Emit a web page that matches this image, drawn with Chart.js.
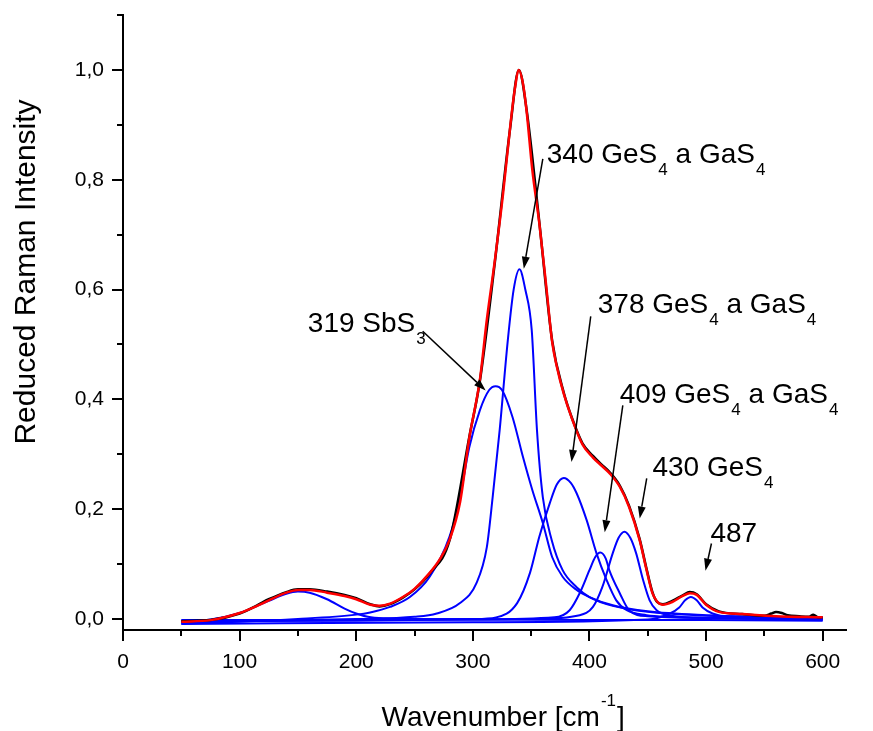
<!DOCTYPE html>
<html>
<head>
<meta charset="utf-8">
<script src="https://cdn.jsdelivr.net/npm/chart.js@4.4.1/dist/chart.umd.min.js"></script>
<style>
  html, body { margin: 0; padding: 0; background: #fff; }
  #grafico { display: block; }
</style>
</head>
<body>
<canvas id="grafico" width="873" height="731"></canvas>
<script>

// total fit (red)
const ajusteX = [50, 75, 100, 115, 125, 140, 150, 160, 175, 190, 200, 212, 220, 229, 240, 250, 263, 272, 280, 289, 297, 306, 312, 319, 326, 332, 336, 339.5, 343, 346, 351, 357, 363, 368, 372, 378, 385, 394, 403, 410, 417, 426, 434, 443, 449, 454, 458, 463, 471, 480, 486, 492, 500, 511, 531, 560, 600];
const ajusteY = [-0.005, -0.002, 0.011, 0.024, 0.034, 0.048, 0.053, 0.053, 0.048, 0.042, 0.036, 0.026, 0.024, 0.028, 0.040, 0.055, 0.084, 0.110, 0.144, 0.212, 0.330, 0.435, 0.545, 0.655, 0.776, 0.896, 0.965, 1.0, 0.975, 0.927, 0.818, 0.721, 0.605, 0.505, 0.460, 0.410, 0.365, 0.318, 0.294, 0.280, 0.266, 0.241, 0.204, 0.144, 0.089, 0.047, 0.032, 0.026, 0.031, 0.042, 0.047, 0.044, 0.026, 0.013, 0.009, 0.005, 0.003];

// measured spectrum (black)
const medidoX = [50, 75, 100, 115, 125, 140, 150, 160, 175, 190, 200, 212, 220, 229, 240, 250, 263, 280, 297, 306, 319, 332, 339.5, 346, 357, 368, 378, 385, 394, 403, 410, 417, 426, 434, 443, 449, 454, 458, 463, 471, 480, 486, 492, 500, 511, 531, 550, 556, 560, 565, 570, 580, 588, 592, 596, 600];
const medidoY = [-0.004, -0.002, 0.010, 0.025, 0.036, 0.049, 0.054, 0.054, 0.050, 0.044, 0.038, 0.027, 0.023, 0.027, 0.039, 0.054, 0.083, 0.143, 0.332, 0.433, 0.652, 0.894, 1.0, 0.929, 0.723, 0.507, 0.412, 0.366, 0.320, 0.297, 0.282, 0.268, 0.243, 0.206, 0.146, 0.091, 0.049, 0.031, 0.027, 0.033, 0.043, 0.049, 0.045, 0.027, 0.014, 0.009, 0.006, 0.010, 0.013, 0.011, 0.007, 0.005, 0.004, 0.008, 0.003, 0.003];

// fitted components (blue)
const pico150X = [50, 75, 100, 115, 125, 140, 150, 160, 175, 190, 200, 210, 225, 250, 300, 400, 500, 600];
const pico150Y = [-0.004, -0.001, 0.011, 0.024, 0.033, 0.046, 0.050, 0.048, 0.036, 0.019, 0.010, 0.004, 0.001, 0.000, -0.001, -0.002, -0.002, -0.003];

const pico319X = [50, 100, 150, 200, 212, 229, 246, 263, 280, 289, 297, 306, 314, 319.5, 325, 334, 343, 351, 360, 368, 377, 389, 400, 420, 450, 500, 550, 600];
const pico319Y = [-0.008, -0.005, 0.000, 0.008, 0.012, 0.022, 0.040, 0.077, 0.150, 0.222, 0.313, 0.380, 0.417, 0.424, 0.417, 0.368, 0.295, 0.235, 0.175, 0.113, 0.077, 0.053, 0.040, 0.025, 0.014, 0.007, 0.004, 0.002];

const pico340X = [50, 100, 150, 200, 250, 269, 289, 303, 312, 317, 323, 330, 335, 340, 345, 350.5, 355, 360, 367.6, 377, 389, 400, 420, 450, 500, 550, 600];
const pico340Y = [-0.006, -0.004, -0.002, 0.000, 0.004, 0.010, 0.029, 0.065, 0.131, 0.222, 0.344, 0.508, 0.600, 0.637, 0.600, 0.526, 0.344, 0.222, 0.144, 0.089, 0.058, 0.040, 0.024, 0.013, 0.006, 0.003, 0.001];

const pico378X = [50, 100, 200, 300, 320, 338, 349, 357, 366, 372, 378, 384, 389, 397.6, 406, 414.7, 423, 432, 449, 470, 500, 550, 600];
const pico378Y = [-0.003, -0.003, -0.002, 0.000, 0.003, 0.029, 0.084, 0.150, 0.211, 0.245, 0.257, 0.248, 0.229, 0.180, 0.120, 0.071, 0.034, 0.016, 0.007, 0.004, 0.002, 0.000, -0.001];

const pico409X = [50, 200, 300, 370, 383, 391.6, 400, 405, 409.3, 414, 417, 426, 434, 450, 500, 600];
const pico409Y = [-0.004, -0.003, -0.001, 0.003, 0.016, 0.047, 0.089, 0.113, 0.121, 0.110, 0.089, 0.047, 0.016, 0.005, 0.002, 0.000];

const pico430X = [50, 200, 350, 391.6, 403, 411, 420, 425, 430, 435, 440, 446, 451.6, 457.6, 470, 500, 600];
const pico430Y = [-0.002, -0.002, 0.000, 0.007, 0.022, 0.058, 0.120, 0.148, 0.159, 0.148, 0.120, 0.071, 0.034, 0.016, 0.006, 0.002, 0.001];

const pico487X = [50, 300, 450, 469, 477, 482, 487, 492, 497, 505.6, 520, 600];
const pico487Y = [-0.009, -0.006, -0.001, 0.010, 0.021, 0.034, 0.040, 0.034, 0.021, 0.010, 0.003, -0.002];

// axis ticks
const ticksX = [0, 100, 200, 300, 400, 500, 600];
const minorX = [50, 150, 250, 350, 450, 550];
const ticksY = [0, 0.2, 0.4, 0.6, 0.8, 1.0];
const minorY = [0.1, 0.3, 0.5, 0.7, 0.9, 1.1];

// peak labels: text position and arrow (data units)
const etiquetas = [
    { partes: [['319 SbS', 0], ['3', 1]], x: 158.5, y: 0.522, desde: [257, 0.524], hasta: [311, 0.416] },
    { partes: [['340 GeS', 0], ['4', 1], [' a GaS', 0], ['4', 1]], x: 363.4, y: 0.831, desde: [360, 0.838], hasta: [343.7, 0.638] },
    { partes: [['378 GeS', 0], ['4', 1], [' a GaS', 0], ['4', 1]], x: 407.1, y: 0.558, desde: [401.1, 0.551], hasta: [384.6, 0.286] },
    { partes: [['409 GeS', 0], ['4', 1], [' a GaS', 0], ['4', 1]], x: 426.0, y: 0.3925, desde: [428.6, 0.389], hasta: [413.1, 0.158] },
    { partes: [['430 GeS', 0], ['4', 1]], x: 454.0, y: 0.261, desde: [449.1, 0.256], hasta: [443.1, 0.183] },
    { partes: [['487', 0]], x: 503.7, y: 0.140, desde: [504.6, 0.1375], hasta: [499.5, 0.088] }
];

const fuente = '"Liberation Sans", Arial, sans-serif';

function f_puntos(xs, ys) {
    let puntos = [];
    for (let i = 0; i < xs.length; i++) {
        puntos.push({ x: xs[i], y: ys[i] });
    }
    return puntos;
}

function f_serie(xs, ys, color, ancho, orden) {
    return {
        data: f_puntos(xs, ys),
        borderColor: color,
        borderWidth: ancho,
        pointRadius: 0,
        fill: false,
        cubicInterpolationMode: 'monotone',
        order: orden
    };
}

const datasets = [
    f_serie(ajusteX, ajusteY, '#ff0000', 2.5, 0),
    f_serie(medidoX, medidoY, '#000000', 2.5, 1),
    f_serie(pico150X, pico150Y, '#0000ff', 2, 2),
    f_serie(pico319X, pico319Y, '#0000ff', 2, 2),
    f_serie(pico340X, pico340Y, '#0000ff', 2, 2),
    f_serie(pico378X, pico378Y, '#0000ff', 2, 2),
    f_serie(pico409X, pico409Y, '#0000ff', 2, 2),
    f_serie(pico430X, pico430Y, '#0000ff', 2, 2),
    f_serie(pico487X, pico487Y, '#0000ff', 2, 2)
];

function f_flecha(ctx, x1, y1, x2, y2) {
    let ang = Math.atan2(y2 - y1, x2 - x1);
    let largo = 12, mitad = 4;
    let bx = x2 - largo * Math.cos(ang), by = y2 - largo * Math.sin(ang);
    ctx.beginPath();
    ctx.moveTo(x1, y1);
    ctx.lineTo(bx, by);
    ctx.stroke();
    ctx.beginPath();
    ctx.moveTo(x2, y2);
    ctx.lineTo(bx + mitad * Math.sin(ang), by - mitad * Math.cos(ang));
    ctx.lineTo(bx - mitad * Math.sin(ang), by + mitad * Math.cos(ang));
    ctx.closePath();
    ctx.fill();
}

const pluginExtras = {
    id: 'extras',
    afterDraw(chart) {
        const ctx = chart.ctx;
        const sx = chart.scales.x, sy = chart.scales.y;
        const area = chart.chartArea;
        ctx.save();
        ctx.strokeStyle = '#000';
        ctx.fillStyle = '#000';

        // minor ticks
        ctx.lineWidth = 2;
        ctx.beginPath();
        minorX.forEach(function (v) {
            let px = Math.round(sx.getPixelForValue(v));
            ctx.moveTo(px, area.bottom);
            ctx.lineTo(px, area.bottom + 6);
        });
        minorY.forEach(function (v) {
            let py = Math.round(sy.getPixelForValue(v));
            ctx.moveTo(area.left, py);
            ctx.lineTo(area.left - 6, py);
        });
        ctx.stroke();

        // peak labels
        ctx.lineWidth = 1.5;
        ctx.textBaseline = 'alphabetic';
        ctx.textAlign = 'left';
        etiquetas.forEach(function (e) {
            let px = sx.getPixelForValue(e.x);
            let py = sy.getPixelForValue(e.y);
            e.partes.forEach(function (p) {
                if (p[1]) {
                    ctx.font = '17px ' + fuente;
                    ctx.fillText(p[0], px + 1, py + 12);
                    px += ctx.measureText(p[0]).width + 1;
                } else {
                    ctx.font = '28px ' + fuente;
                    ctx.fillText(p[0], px, py);
                    px += ctx.measureText(p[0]).width;
                }
            });
            f_flecha(ctx,
                sx.getPixelForValue(e.desde[0]), sy.getPixelForValue(e.desde[1]),
                sx.getPixelForValue(e.hasta[0]), sy.getPixelForValue(e.hasta[1]));
        });

        // x title with superscript
        ctx.font = '28px ' + fuente;
        let t1 = 'Wavenumber [cm', t3 = ']';
        let w1 = ctx.measureText(t1).width, w3 = ctx.measureText(t3).width;
        ctx.font = '17px ' + fuente;
        let t2 = '-1';
        let w2 = ctx.measureText(t2).width;
        let cx = sx.getPixelForValue(326);
        let x0 = cx - (w1 + w2 + w3 + 2) / 2;
        let base = 726;
        ctx.font = '28px ' + fuente;
        ctx.fillText(t1, x0, base);
        ctx.font = '17px ' + fuente;
        ctx.fillText(t2, x0 + w1 + 1, base - 20);
        ctx.font = '28px ' + fuente;
        ctx.fillText(t3, x0 + w1 + w2 + 2, base);

        // y title
        ctx.translate(35, sy.getPixelForValue(0.632));
        ctx.rotate(-Math.PI / 2);
        ctx.textAlign = 'center';
        ctx.font = '30px ' + fuente;
        ctx.fillText('Reduced Raman Intensity', 0, 0);
        ctx.restore();
    }
};

let grafico = new Chart(document.getElementById('grafico'), {
    type: 'line',
    data: { datasets: datasets },
    options: {
        responsive: false,
        animation: false,
        devicePixelRatio: 1,
        layout: { padding: { top: 15, right: 27, bottom: 0, left: 0 } },
        plugins: { legend: { display: false }, tooltip: { enabled: false } },
        scales: {
            x: {
                type: 'linear',
                min: 0,
                max: 620,
                afterFit: function (s) { s.height = 101; s.paddingLeft = 0; s.paddingRight = 0; },
                afterBuildTicks: function (s) { s.ticks = ticksX.map(function (v) { return { value: v }; }); },
                ticks: { color: '#000', font: { size: 21, family: fuente }, padding: 9, maxRotation: 0 },
                grid: { drawOnChartArea: false, drawTicks: true, tickLength: 11, lineWidth: 2, color: '#000' },
                border: { display: true, width: 2, color: '#000' }
            },
            y: {
                type: 'linear',
                min: -0.02,
                max: 1.1,
                afterFit: function (s) { s.width = 123; s.paddingTop = 0; s.paddingBottom = 0; },
                afterBuildTicks: function (s) { s.ticks = ticksY.map(function (v) { return { value: v }; }); },
                ticks: {
                    color: '#000',
                    font: { size: 21, family: fuente },
                    padding: 8,
                    callback: function (v) { return v.toFixed(1).replace('.', ','); }
                },
                grid: { drawOnChartArea: false, drawTicks: true, tickLength: 11, lineWidth: 2, color: '#000' },
                border: { display: true, width: 2, color: '#000' }
            }
        }
    },
    plugins: [pluginExtras]
});
</script>
</body>
</html>
